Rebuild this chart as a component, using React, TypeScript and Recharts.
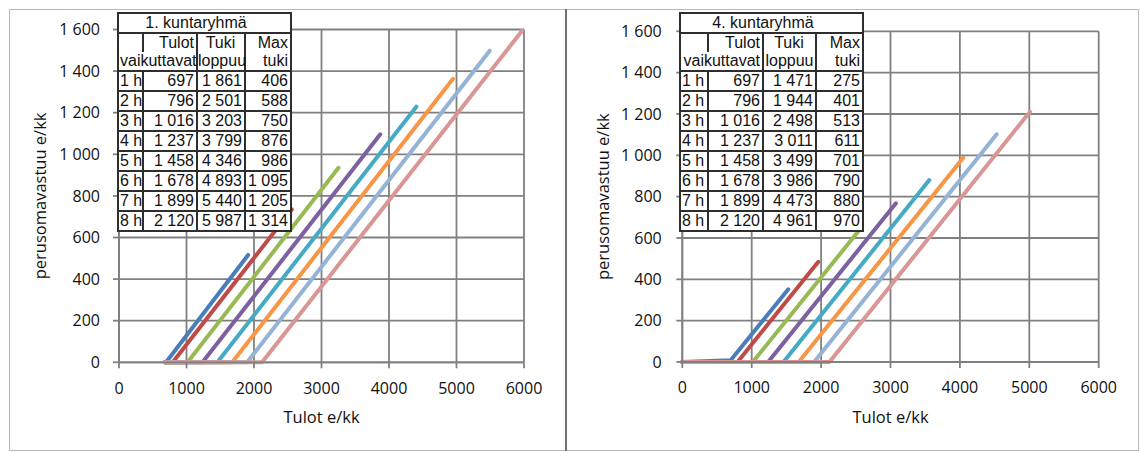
import { LineChart, Line, XAxis, YAxis, CartesianGrid } from 'recharts';

// Tuntimäärät ja sarjojen värit
const hours = ['1 h', '2 h', '3 h', '4 h', '5 h', '6 h', '7 h', '8 h'];
const seriesColors = ['#4a7ebb', '#be4b48', '#98b954', '#7d60a0', '#46aac5', '#f79646', '#95b3d7', '#d99694'];

// Taulukon arvot
const tulotVaikuttavat = [697, 796, 1016, 1237, 1458, 1678, 1899, 2120];
const tukiLoppuu1 = [1861, 2501, 3203, 3799, 4346, 4893, 5440, 5987];
const maxTuki1 = [406, 588, 750, 876, 986, 1095, 1205, 1314];
const tukiLoppuu4 = [1471, 1944, 2498, 3011, 3499, 3986, 4473, 4961];
const maxTuki4 = [275, 401, 513, 611, 701, 790, 880, 970];

// Perusomavastuun käyrät: alku nollatasolla, loppupiste
const alkuX1 = [680, 680, 680, 680, 680, 680, 680, 680];
const alkuY1 = [0, 0, 0, 0, 0, 0, 0, 0];
const loppuX1 = [1913, 2560, 3252, 3871, 4405, 4949, 5492, 5972];
const loppuY1 = [516, 735, 935, 1096, 1229, 1363, 1498, 1594];

const alkuX4 = [0, 0, 0, 0, 0, 0, 0, 0];
const alkuY4 = [0, 0, 0, 0, 0, 0, 0, 0];
const kynnysY4 = [9, 0, 0, 0, 0, 0, 0, 0];
const loppuX4 = [1527, 1960, 2540, 3078, 3559, 4049, 4530, 5010];
const loppuY4 = [352, 485, 634, 768, 880, 988, 1102, 1211];

const xTicks = [0, 1000, 2000, 3000, 4000, 5000, 6000];
const yTicks = [0, 200, 400, 600, 800, 1000, 1200, 1400, 1600];

const fmt = (v: number, sep = ' ') =>
  v >= 1000 ? `${Math.floor(v / 1000)}${sep}${String(v % 1000).padStart(3, '0')}` : String(v);

const gridColor = '#808080';
const axisFont = { fontFamily: '"Open Sans", sans-serif', fontSize: 16, fill: '#111' };

function buildSeries(alkuX: number[], alkuY: number[], kynnysY: number[], loppuX: number[], loppuY: number[]) {
  return hours.map((_, i) => [
    { x: alkuX[i], y: alkuY[i] },
    { x: tulotVaikuttavat[i], y: kynnysY[i] },
    { x: loppuX[i], y: loppuY[i] },
  ]);
}

interface TableProps {
  title: string;
  left: number;
  colWidths: number[];
  tukiLoppuu: number[];
  maxTuki: number[];
}

function DataTable({ title, left, colWidths, tukiLoppuu, maxTuki }: TableProps) {
  const b = '2px solid #2e2e2e';
  const cell = { border: b, padding: '0 2px 0 1px', height: 18, lineHeight: '18px', whiteSpace: 'nowrap' as const, overflow: 'visible' };
  const total = colWidths.reduce((a, c) => a + c, 0);
  return (
    <table
      style={{
        position: 'absolute',
        left,
        top: 12,
        width: total,
        borderCollapse: 'collapse',
        tableLayout: 'fixed',
        background: '#fff',
        fontFamily: '"Liberation Sans", Arial, sans-serif',
        fontSize: 16,
        color: '#111',
      }}
    >
      <colgroup>
        {colWidths.map((w, i) => (
          <col key={i} style={{ width: w }} />
        ))}
      </colgroup>
      <tbody>
        <tr>
          <td colSpan={4} style={{ ...cell, textAlign: 'center', paddingRight: 18 }}>{title}</td>
        </tr>
        <tr>
          <td style={{ ...cell, borderBottom: 'none' }}></td>
          <td style={{ ...cell, textAlign: 'right', borderBottom: 'none' }}>Tulot</td>
          <td style={{ ...cell, textAlign: 'center', borderBottom: 'none' }}>Tuki</td>
          <td style={{ ...cell, textAlign: 'right', borderBottom: 'none' }}>Max</td>
        </tr>
        <tr>
          <td colSpan={2} style={{ ...cell, textAlign: 'right', borderTop: 'none' }}>vaikuttavat</td>
          <td style={{ ...cell, textAlign: 'center', borderTop: 'none', padding: 0 }}>loppuu</td>
          <td style={{ ...cell, textAlign: 'right', borderTop: 'none' }}>tuki</td>
        </tr>
        {hours.map((h, i) => (
          <tr key={h}>
            <td style={{ ...cell, textAlign: 'left', padding: '0 0 0 1px' }}>{h}</td>
            <td style={{ ...cell, textAlign: 'right' }}>{fmt(tulotVaikuttavat[i], '\u00a0')}</td>
            <td style={{ ...cell, textAlign: 'right' }}>{fmt(tukiLoppuu[i], '\u00a0')}</td>
            <td style={{ ...cell, textAlign: 'right' }}>{fmt(maxTuki[i], '\u00a0')}</td>
          </tr>
        ))}
      </tbody>
    </table>
  );
}

interface PanelProps {
  left: number;
  width: number;
  yAxisWidth: number;
  margin: { top: number; right: number; bottom: number; left: number };
  series: { x: number; y: number }[][];
  yTickMargin: number;
  yLabelOffset: number;
}

function Panel({ left, width, yAxisWidth, margin, series, yTickMargin, yLabelOffset }: PanelProps) {
  return (
    <div style={{ position: 'absolute', left, top: 9 }}>
      <LineChart width={width} height={441} margin={margin}>
        <CartesianGrid stroke={gridColor} strokeWidth={1.8} />
        <XAxis
          dataKey="x"
          type="number"
          domain={[0, 6000]}
          ticks={xTicks}
          interval={0}
          stroke={gridColor}
          strokeWidth={1.8}
          tickSize={6}
          tickMargin={14}
          tick={axisFont}
          height={60}
          label={{
            value: 'Tulot e/kk',
            position: 'insideBottom',
            offset: -1,
            style: { fontFamily: '"Open Sans", sans-serif', fontSize: 16.5, fill: '#111' },
          }}
        />
        <YAxis
          type="number"
          domain={[0, 1600]}
          ticks={yTicks}
          interval={0}
          width={yAxisWidth}
          stroke={gridColor}
          strokeWidth={1.8}
          tickSize={6}
          tickMargin={yTickMargin}
          tick={axisFont}
          tickFormatter={(v: number) => fmt(v)}
          label={{
            value: 'perusomavastuu e/kk',
            angle: -90,
            position: 'insideLeft',
            offset: yLabelOffset,
            style: { fontFamily: '"Open Sans", sans-serif', fontSize: 16.5, fill: '#111', textAnchor: 'middle' },
          }}
        />
        {series.map((data, i) => (
          <Line
            key={hours[i]}
            data={data}
            dataKey="y"
            type="linear"
            stroke={seriesColors[i]}
            strokeWidth={4}
            strokeLinecap="round"
            strokeLinejoin="round"
            dot={false}
            activeDot={false}
            isAnimationActive={false}
          />
        ))}
      </LineChart>
    </div>
  );
}

export default function App() {
  const series1 = buildSeries(alkuX1, alkuY1, alkuY1, loppuX1, loppuY1);
  const series4 = buildSeries(alkuX4, alkuY4, kynnysY4, loppuX4, loppuY4);
  return (
    <div style={{ position: 'absolute', left: 0, top: 0, width: 1141, height: 452, background: '#fff', overflow: 'hidden' }}>
      <div style={{ position: 'absolute', left: 9, top: 9, width: 1128, height: 440, border: '1px solid #b8b8b8' }} />
      <div style={{ position: 'absolute', left: 565, top: 9, width: 2, height: 442, background: '#707070' }} />
      <Panel
        left={9}
        width={556}
        yAxisWidth={110}
        margin={{ top: 20.5, right: 41, bottom: 27.7, left: 0 }}
        series={series1}
        yTickMargin={13}
        yLabelOffset={31}
      />
      <Panel
        left={567}
        width={572}
        yAxisWidth={115.3}
        margin={{ top: 22.3, right: 40.3, bottom: 28, left: 0 }}
        series={series4}
        yTickMargin={14.6}
        yLabelOffset={36}
      />
      <DataTable title="1. kuntaryhmä" left={117} colWidths={[25, 54, 48, 46]} tukiLoppuu={tukiLoppuu1} maxTuki={maxTuki1} />
      <DataTable title="4. kuntaryhmä" left={679} colWidths={[28, 55, 53, 47]} tukiLoppuu={tukiLoppuu4} maxTuki={maxTuki4} />
    </div>
  );
}
